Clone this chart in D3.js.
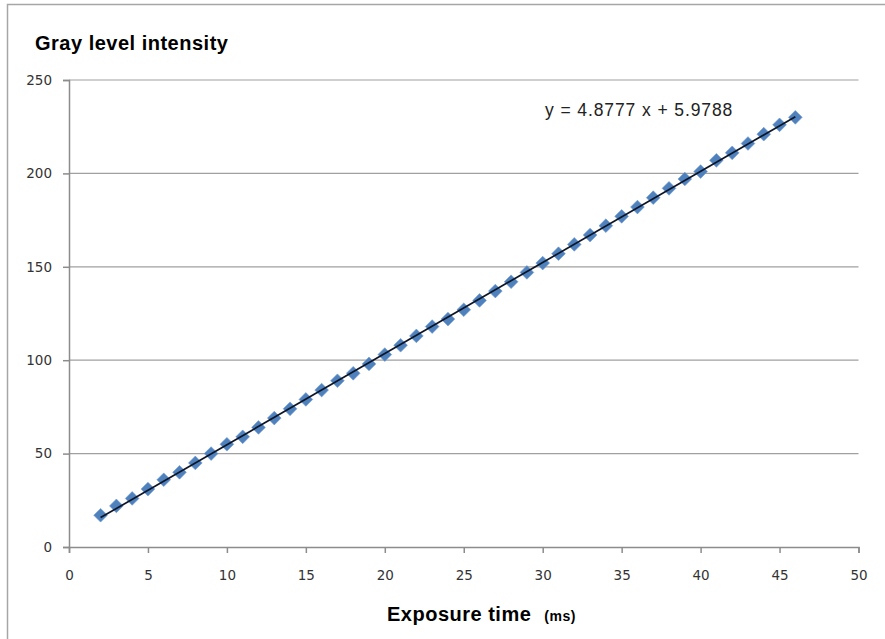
<!DOCTYPE html>
<html>
<head>
<meta charset="utf-8">
<script src="https://cdn.jsdelivr.net/npm/d3@7"></script>
<style>
  body { margin: 0; background: #fff; }
  svg { display: block; }
</style>
</head>
<body>
<svg id="chart" width="885" height="639"></svg>
<script>
// exposure time (ms) and measured gray level
var exposureTimes = [2, 3, 4, 5, 6, 7, 8, 9, 10, 11, 12, 13, 14, 15, 16, 17, 18, 19, 20, 21, 22, 23,
  24, 25, 26, 27, 28, 29, 30, 31, 32, 33, 34, 35, 36, 37, 38, 39, 40, 41, 42, 43, 44, 45, 46];
var grayLevels = [17, 22, 26, 31, 36, 40, 45, 50, 55, 59, 64, 69, 74, 79, 84, 89, 93, 98, 103, 108, 113, 118,
  122, 127, 132, 137, 142, 147, 152, 157, 162, 167, 172, 177, 182, 187, 192, 197, 201, 207, 211, 216, 221, 226, 230];
var xTicks = [0, 5, 10, 15, 20, 25, 30, 35, 40, 45, 50];
var yTicks = [0, 50, 100, 150, 200, 250];
var trendSlope = 4.8777;
var trendIntercept = 5.9788;

var svg = d3.select('#chart');

// outer chart frame
svg.append('rect')
  .attr('x', 7.5).attr('y', 4.5)
  .attr('width', 900).attr('height', 660)
  .attr('fill', 'none').attr('stroke', '#a6a6a6').attr('stroke-width', 1.5);

var x = d3.scaleLinear().domain([0, 50]).range([69, 858.5]);
var y = d3.scaleLinear().domain([0, 250]).range([547, 80]);

// gridlines
svg.append('g').selectAll('line')
  .data(yTicks.filter(function (d) { return d > 0; }))
  .join('line')
  .attr('x1', x(0)).attr('x2', x(50))
  .attr('y1', function (d) { return y(d); }).attr('y2', function (d) { return y(d); })
  .attr('stroke', '#a0a0a0').attr('stroke-width', 1.2);

// axes
var yAxis = svg.append('g')
  .attr('transform', 'translate(' + x(0) + ',0)')
  .call(d3.axisLeft(y).tickValues(yTicks).tickSize(6).tickPadding(11));
var xAxis = svg.append('g')
  .attr('transform', 'translate(0,' + y(0) + ')')
  .call(d3.axisBottom(x).tickValues(xTicks).tickSize(6).tickPadding(17));

[xAxis, yAxis].forEach(function (ax) {
  ax.select('.domain').attr('stroke', '#8c8c8c').attr('stroke-width', 1.5);
  ax.selectAll('.tick line').attr('stroke', '#8c8c8c').attr('stroke-width', 1.5);
  ax.selectAll('.tick text')
    .attr('font-family', 'DejaVu Sans, Tahoma, sans-serif')
    .attr('font-size', 13.5).attr('fill', '#333');
});

// markers
var diamond = d3.symbol().type(d3.symbolDiamond2).size(120);
svg.append('g').selectAll('path')
  .data(exposureTimes)
  .join('path')
  .attr('d', diamond)
  .attr('transform', function (d, i) {
    return 'translate(' + x(d) + ',' + y(grayLevels[i]) + ')';
  })
  .attr('fill', '#4f81bd')
  .attr('stroke', '#6f9bd0').attr('stroke-width', 1).attr('stroke-opacity', 0.6);

// linear trendline
var xMin = d3.min(exposureTimes), xMax = d3.max(exposureTimes);
svg.append('line')
  .attr('x1', x(xMin)).attr('y1', y(trendSlope * xMin + trendIntercept))
  .attr('x2', x(xMax)).attr('y2', y(trendSlope * xMax + trendIntercept))
  .attr('stroke', '#0d1526').attr('stroke-width', 1.7);

svg.append('text')
  .attr('x', 545).attr('y', 116)
  .attr('font-family', 'Liberation Sans, Arial, sans-serif')
  .attr('font-size', 17.5).attr('letter-spacing', 0.9).attr('fill', '#222')
  .text('y = 4.8777 x + 5.9788');

// titles
svg.append('text')
  .attr('x', 35).attr('y', 50)
  .attr('font-family', 'Liberation Sans, Arial, sans-serif')
  .attr('font-size', 20).attr('letter-spacing', 0.5).attr('font-weight', 'bold')
  .text('Gray level intensity');

var xl = svg.append('text')
  .attr('x', 387).attr('y', 621)
  .attr('font-family', 'Liberation Sans, Arial, sans-serif')
  .attr('font-weight', 'bold');
xl.append('tspan').attr('font-size', 20).attr('letter-spacing', 0.5).text('Exposure time');
xl.append('tspan').attr('font-size', 14).attr('letter-spacing', 0.5).attr('dx', 13).text('(ms)');
</script>
</body>
</html>
